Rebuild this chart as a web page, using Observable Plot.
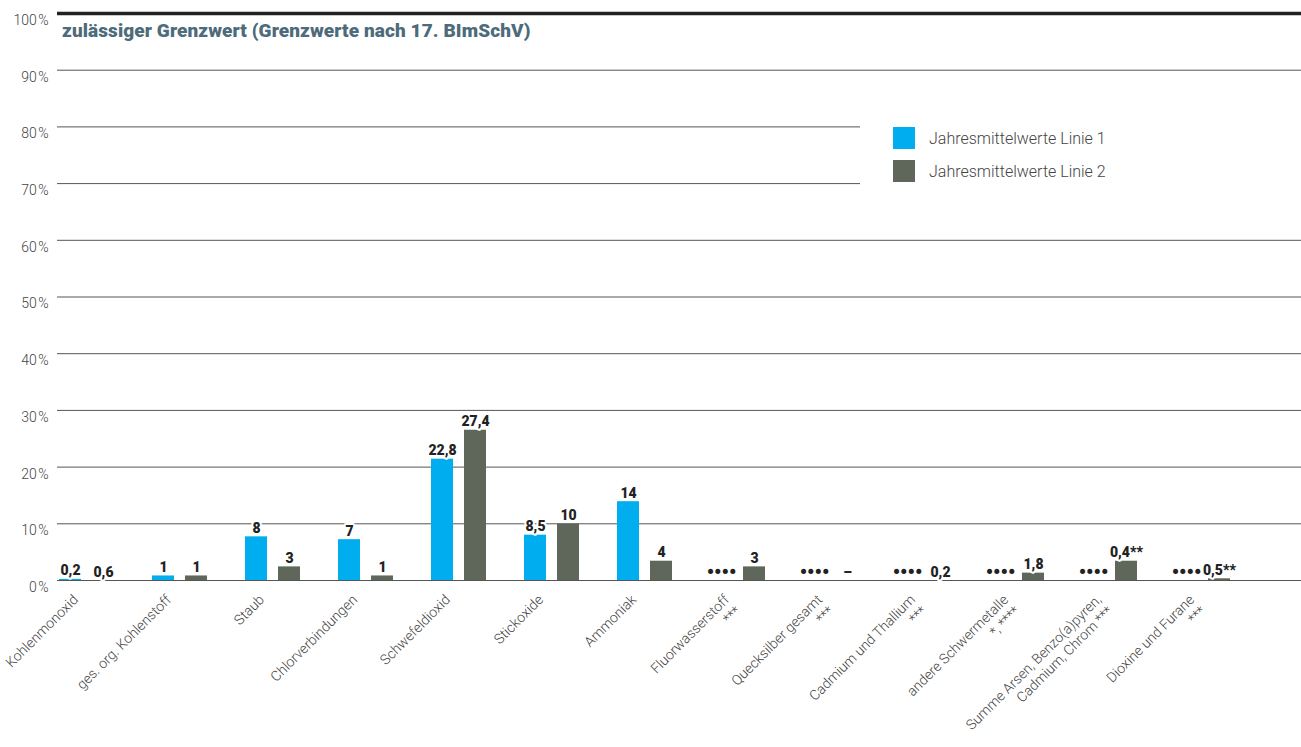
<!DOCTYPE html>
<html><head><meta charset="utf-8">
<script src="https://cdn.jsdelivr.net/npm/d3@7"></script>
<script src="https://cdn.jsdelivr.net/npm/@observablehq/plot@0.6"></script>
<style>
body{margin:0;background:#fff;font-family:Roboto, "Liberation Sans", sans-serif;}
#wrap{position:relative;width:1301px;height:747px;overflow:hidden;}
#title{position:absolute;left:62px;top:19px;font-family:Roboto,sans-serif;font-weight:900;font-size:19px;color:#4d6b7b;letter-spacing:0.1px;white-space:nowrap;}
#legend{position:absolute;left:860px;top:105px;width:441px;height:105px;background:#fff;}
.item{position:absolute;left:33px;display:flex;align-items:center;font-family:Roboto,sans-serif;font-weight:300;font-size:16px;color:#444;white-space:nowrap;}
.sw{width:22px;height:22px;margin-right:14px;}
</style></head><body>
<div id="wrap">
  <div id="chart"></div>
  <div id="title">zulässiger Grenzwert (Grenzwerte nach 17. BImSchV)</div>
  <div id="legend"></div>
</div>
<script>
// ---- data ----
const categories = [
  "Kohlenmonoxid",
  "ges. org. Kohlenstoff",
  "Staub",
  "Chlorverbindungen",
  "Schwefeldioxid",
  "Stickoxide",
  "Ammoniak",
  "Fluorwasserstoff\n***",
  "Quecksilber gesamt\n***",
  "Cadmium und Thallium\n***",
  "andere Schwermetalle\n*, ****",
  "Summe Arsen, Benzo(a)pyren,\nCadmium, Chrom ***",
  "Dioxine und Furane\n***"
];
const seriesNames = ["Jahresmittelwerte Linie 1", "Jahresmittelwerte Linie 2"];
const seriesColors = ["#00aeef", "#5f665a"];
// bar heights in % of the permitted limit
const line1Pct = [0.2, 0.8, 7.7, 7.2, 21.4, 8.0, 13.9, 0, 0, 0, 0, 0, 0];
const line2Pct = [0, 0.8, 2.4, 0.8, 26.5, 9.95, 3.4, 2.4, 0, 0, 1.3, 3.4, 0.3];
// printed value labels
const line1Labels = ["0,2", "1", "8", "7", "22,8", "8,5", "14", "••••", "••••", "••••", "••••", "••••", "••••"];
const line2Labels = ["0,6", "1", "3", "1", "27,4", "10", "4", "3", "–", "0,2", "1,8", "0,4**", "0,5**"];
const yTicks = [0, 10, 20, 30, 40, 50, 60, 70, 80, 90, 100];

// ---- build rows ----
const rows1 = categories.map((c, i) => ({cat: c, pct: line1Pct[i], label: line1Labels[i], series: seriesNames[0]}));
const rows2 = categories.map((c, i) => ({cat: c, pct: line2Pct[i], label: line2Labels[i], series: seriesNames[1]}));
const isPlaceholder = d => d.label === "••••";

const barInset = 35.5;
const off = 16.5;
const labelOpts = {
  x: "cat", y: "pct", text: "label", lineAnchor: "bottom", dy: -4,
  fontSize: 14, fontWeight: 900, fill: "#222",
  stroke: "white", strokeWidth: 4, paintOrder: "stroke"
};

const chart = Plot.plot({
  width: 1301,
  height: 747,
  marginTop: 13,
  marginBottom: 167,
  marginLeft: 57,
  marginRight: 0,
  style: {fontFamily: "Roboto, 'Liberation Sans', sans-serif", background: "white"},
  x: {domain: categories, range: [39, 1249], padding: 0, axis: null},
  y: {domain: [0, 100], axis: null},
  marks: [
    Plot.ruleY(yTicks.filter(d => d > 0 && d < 100), {stroke: "#555", strokeWidth: 1}),
    Plot.ruleY([0], {stroke: "#555", strokeWidth: 1}),
    Plot.ruleY([100], {stroke: "#222", strokeWidth: 3.5}),
    Plot.barY(rows1, {x: "cat", y: "pct", fill: seriesColors[0], dx: -off, insetLeft: barInset, insetRight: barInset}),
    Plot.barY(rows2, {x: "cat", y: "pct", fill: seriesColors[1], dx: off, insetLeft: barInset, insetRight: barInset}),
    Plot.text(rows1.filter(d => !isPlaceholder(d)), {...labelOpts, dx: -off}),
    Plot.text(rows1.filter(isPlaceholder), {...labelOpts, dx: -off, fontSize: 20, dy: -2}),
    Plot.text(rows2, {...labelOpts, dx: off}),
    Plot.axisY(yTicks, {
      label: null,
      tickSize: 0, tickPadding: 9, dy: 7,
      tickFormat: d => d + "\u200A%",
      fontSize: 14, fontWeight: 300, color: "#444"
    }),
    Plot.text(categories, {
      x: d => d, y: () => 0, text: d => d,
      rotate: -45, textAnchor: "end", lineAnchor: "top", lineHeight: 1.15,
      dx: -16, dy: 12, fontSize: 14, fontWeight: 300, fill: "#444"
    })
  ]
});
document.getElementById("chart").appendChild(chart);

// legend
const legend = document.getElementById("legend");
seriesNames.forEach((s, i) => {
  const item = document.createElement("div");
  item.className = "item";
  item.style.top = (22 + i * 33) + "px";
  const sw = document.createElement("div");
  sw.className = "sw";
  sw.style.background = seriesColors[i];
  item.appendChild(sw);
  item.appendChild(document.createTextNode(s));
  legend.appendChild(item);
});
</script>
</body></html>
